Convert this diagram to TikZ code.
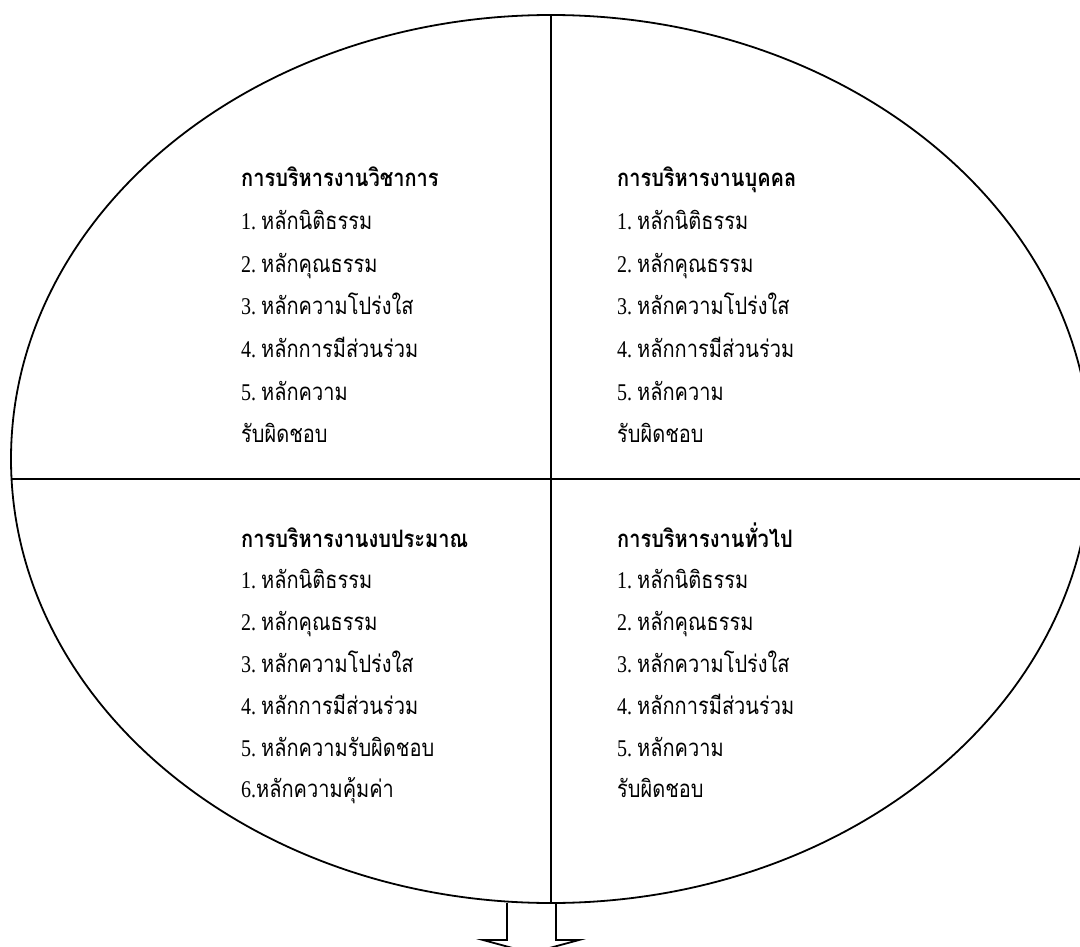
\documentclass[tikz,border=0pt]{standalone}
\usepackage{fontspec}
\usetikzlibrary{shapes.geometric}
\newfontfamily\thaifont[Script=Thai]{Loma}
\newfontfamily\dgfont{Liberation Serif}
\newcommand{\tall}[1]{\scalebox{1}[1.2]{#1}}
\newcommand{\dg}[1]{{\dgfont #1\ }}
\tikzset{
  frame/.style={line width=1.8pt, draw=black},
  txt/.style={anchor=base west, inner sep=0pt, font=\thaifont\fontsize{20}{24}\selectfont},
  head/.style={txt, font=\thaifont\bfseries\fontsize{20}{24}\selectfont},
}
\begin{document}
\begin{tikzpicture}[x=1pt,y=-1pt]
\useasboundingbox (0,0) rectangle (1080,947);
\clip (0,0) rectangle (1080,947);
% ellipse
\node[frame, ellipse, minimum width=1080pt, minimum height=888pt, inner sep=0pt] (ell) at (551,459) {};
\coordinate (top) at (551,15);
\coordinate (bot) at (551,903);
\coordinate (lft) at (11.6,479);
\coordinate (rgt) at (1095,479);
\draw[frame] (top) -- (bot);
\draw[frame] (lft) -- (rgt);
% block arrow
\coordinate (a1) at (507,903);
\coordinate (a2) at (507,940);
\coordinate (a3) at (483,940);
\coordinate (a4) at (531,953);
\coordinate (a5) at (579,940);
\coordinate (a6) at (556,940);
\coordinate (a7) at (556,903);
\draw[frame, line join=miter] (a1) -- (a2) -- (a3) -- (a4) -- (a5) -- (a6) -- (a7);
% top-left
\def\sp{42.6}
\node[head] (tlh) at (241,187) {\tall{การบริหารงานวิชาการ}};
\node[txt] (tl1) at (241,187+1*\sp) {\tall{\dg{1.}หลักนิติธรรม}};
\node[txt] (tl2) at (241,187+2*\sp) {\tall{\dg{2.}หลักคุณธรรม}};
\node[txt] (tl3) at (241,187+3*\sp) {\tall{\dg{3.}หลักความโปร่งใส}};
\node[txt] (tl4) at (241,187+4*\sp) {\tall{\dg{4.}หลักการมีส่วนร่วม}};
\node[txt] (tl5) at (241,187+5*\sp) {\tall{\dg{5.}หลักความ}};
\node[txt] (tl6) at (241,187+6*\sp) {\tall{รับผิดชอบ}};
% top-right
\node[head] (trh) at (617,187) {\tall{การบริหารงานบุคคล}};
\node[txt] (tr1) at (617,187+1*\sp) {\tall{\dg{1.}หลักนิติธรรม}};
\node[txt] (tr2) at (617,187+2*\sp) {\tall{\dg{2.}หลักคุณธรรม}};
\node[txt] (tr3) at (617,187+3*\sp) {\tall{\dg{3.}หลักความโปร่งใส}};
\node[txt] (tr4) at (617,187+4*\sp) {\tall{\dg{4.}หลักการมีส่วนร่วม}};
\node[txt] (tr5) at (617,187+5*\sp) {\tall{\dg{5.}หลักความ}};
\node[txt] (tr6) at (617,187+6*\sp) {\tall{รับผิดชอบ}};
% bottom-left
\def\sq{41.8}
\node[head] (blh) at (241,547) {\tall{การบริหารงานงบประมาณ}};
\node[txt] (bl1) at (241,547+1*\sq) {\tall{\dg{1.}หลักนิติธรรม}};
\node[txt] (bl2) at (241,547+2*\sq) {\tall{\dg{2.}หลักคุณธรรม}};
\node[txt] (bl3) at (241,547+3*\sq) {\tall{\dg{3.}หลักความโปร่งใส}};
\node[txt] (bl4) at (241,547+4*\sq) {\tall{\dg{4.}หลักการมีส่วนร่วม}};
\node[txt] (bl5) at (241,547+5*\sq) {\tall{\dg{5.}หลักความรับผิดชอบ}};
\node[txt] (bl6) at (241,547+6*\sq) {\tall{{\dgfont 6.}หลักความคุ้มค่า}};
% bottom-right
\node[head] (brh) at (617,547) {\tall{การบริหารงานทั่วไป}};
\node[txt] (br1) at (617,547+1*\sq) {\tall{\dg{1.}หลักนิติธรรม}};
\node[txt] (br2) at (617,547+2*\sq) {\tall{\dg{2.}หลักคุณธรรม}};
\node[txt] (br3) at (617,547+3*\sq) {\tall{\dg{3.}หลักความโปร่งใส}};
\node[txt] (br4) at (617,547+4*\sq) {\tall{\dg{4.}หลักการมีส่วนร่วม}};
\node[txt] (br5) at (617,547+5*\sq) {\tall{\dg{5.}หลักความ}};
\node[txt] (br6) at (617,547+6*\sq) {\tall{รับผิดชอบ}};
\end{tikzpicture}
\end{document}
